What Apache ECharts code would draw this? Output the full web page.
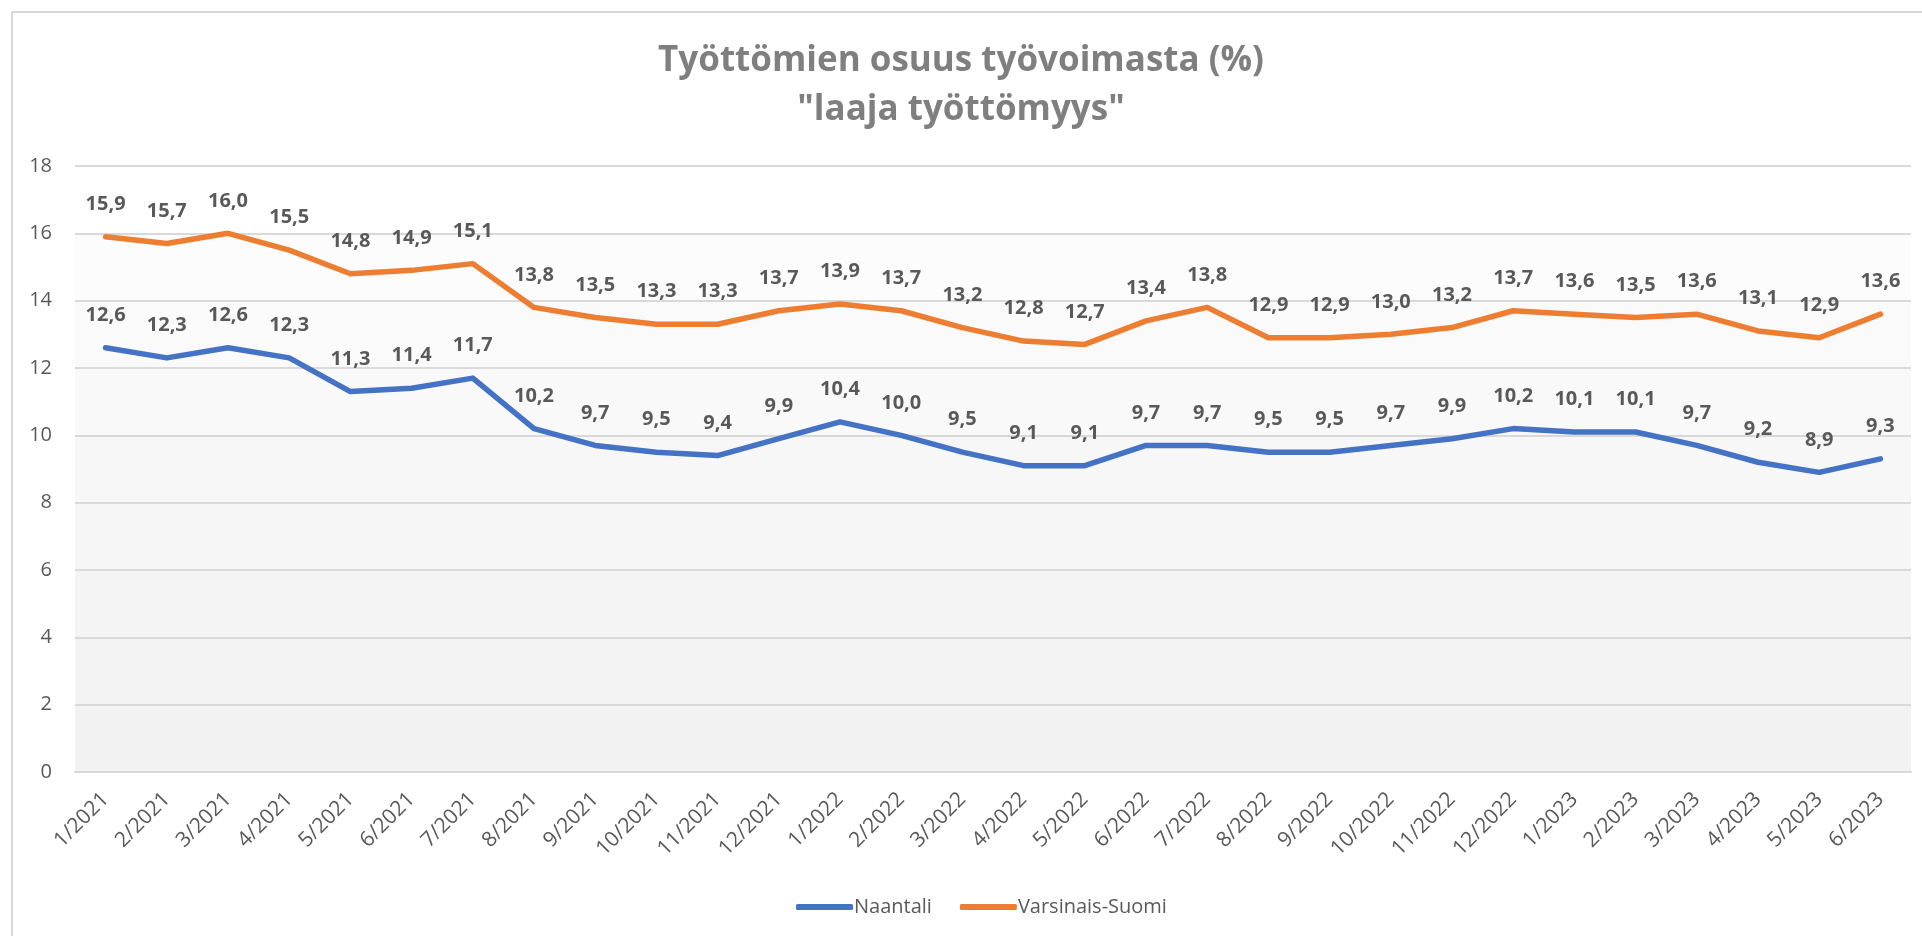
<!DOCTYPE html>
<html>
<head>
<meta charset="utf-8">
<script src="https://cdn.jsdelivr.net/npm/echarts@6/dist/echarts.min.js"></script>
<style>
  html, body { margin: 0; padding: 0; background: #fff; }
  #chart { width: 1922px; height: 936px; }
</style>
</head>
<body>
<div id="chart"></div>
<script>
const months = [
  "1/2021", "2/2021", "3/2021", "4/2021", "5/2021", "6/2021", "7/2021", "8/2021",
  "9/2021", "10/2021", "11/2021", "12/2021", "1/2022", "2/2022", "3/2022", "4/2022",
  "5/2022", "6/2022", "7/2022", "8/2022", "9/2022", "10/2022", "11/2022", "12/2022",
  "1/2023", "2/2023", "3/2023", "4/2023", "5/2023", "6/2023",
];
const naantali = [
  12.6, 12.3, 12.6, 12.3, 11.3, 11.4, 11.7, 10.2, 9.7, 9.5, 9.4, 9.9, 10.4, 10.0, 9.5,
  9.1, 9.1, 9.7, 9.7, 9.5, 9.5, 9.7, 9.9, 10.2, 10.1, 10.1, 9.7, 9.2, 8.9, 9.3,
];
const varsinaisSuomi = [
  15.9, 15.7, 16.0, 15.5, 14.8, 14.9, 15.1, 13.8, 13.5, 13.3, 13.3, 13.7, 13.9, 13.7, 13.2,
  12.8, 12.7, 13.4, 13.8, 12.9, 12.9, 13.0, 13.2, 13.7, 13.6, 13.5, 13.6, 13.1, 12.9, 13.6,
];
const yTicks = [0, 2, 4, 6, 8, 10, 12, 14, 16, 18];

const font = "'Open Sans', 'Noto Sans', sans-serif";
const fmt = (v) => Number(v).toFixed(1).replace(".", ",");

// banded fill, light at the top and greyer towards the bottom
const bands = ["#f2f2f2", "#f3f3f3", "#f4f4f4", "#f6f6f6", "#f7f7f7", "#f9f9f9", "#fafafa", "#fcfcfc", "#ffffff"];

function lineSeries(name, data, color) {
  return {
    name,
    type: "line",
    data,
    symbol: "circle",
    symbolSize: 1,
    showSymbol: true,
    lineStyle: { color, width: 5.5, cap: "round", join: "round" },
    itemStyle: { color },
    label: {
      show: true,
      position: "top",
      distance: 22,
      formatter: (p) => fmt(p.value),
      color: "#595959",
      fontFamily: font,
      fontWeight: "bold",
      fontSize: 20,
    },
    labelLayout: { hideOverlap: false },
  };
}

const chart = echarts.init(document.getElementById("chart"), null, { renderer: "canvas" });
chart.setOption({
  animation: false,
  backgroundColor: "#fff",
  graphic: [
    {
      type: "rect",
      shape: { x: 12, y: 12, width: 2000, height: 1000 },
      style: { fill: "none", stroke: "#d9d9d9", lineWidth: 2 },
      silent: true,
    },
  ],
  title: {
    text: "Työttömien osuus työvoimasta (%)\n\"laaja työttömyys\"",
    left: "center",
    top: 32,
    textStyle: {
      color: "#7f7f7f",
      fontFamily: font,
      fontWeight: "bold",
      fontSize: 35,
      lineHeight: 49,
    },
  },
  legend: {
    top: 892,
    left: 791,
    itemWidth: 57,
    itemHeight: 6,
    itemGap: 28,
    icon: "roundRect",
    textStyle: { color: "#595959", fontFamily: font, fontSize: 20, padding: [0, 0, 0, -4] },
    data: ["Naantali", "Varsinais-Suomi"],
  },
  grid: { left: 75, right: 11, top: 166, bottom: 164, containLabel: false },
  xAxis: {
    type: "category",
    data: months,
    boundaryGap: true,
    axisLine: { lineStyle: { color: "#d9d9d9", width: 2 } },
    axisTick: { show: false },
    axisLabel: {
      color: "#595959",
      fontFamily: font,
      fontSize: 21,
      rotate: 45,
      interval: 0,
      margin: 24,
    },
  },
  yAxis: {
    type: "value",
    min: yTicks[0],
    max: yTicks[yTicks.length - 1],
    interval: 2,
    axisLine: { show: false },
    axisTick: { show: false },
    axisLabel: { color: "#595959", fontFamily: font, fontSize: 20, margin: 23 },
    splitLine: { lineStyle: { color: "#d9d9d9", width: 2 } },
    splitArea: { show: true, areaStyle: { color: bands } },
  },
  series: [
    lineSeries("Naantali", naantali, "#4472c4"),
    lineSeries("Varsinais-Suomi", varsinaisSuomi, "#ed7d31"),
  ],
});
</script>
</body>
</html>
